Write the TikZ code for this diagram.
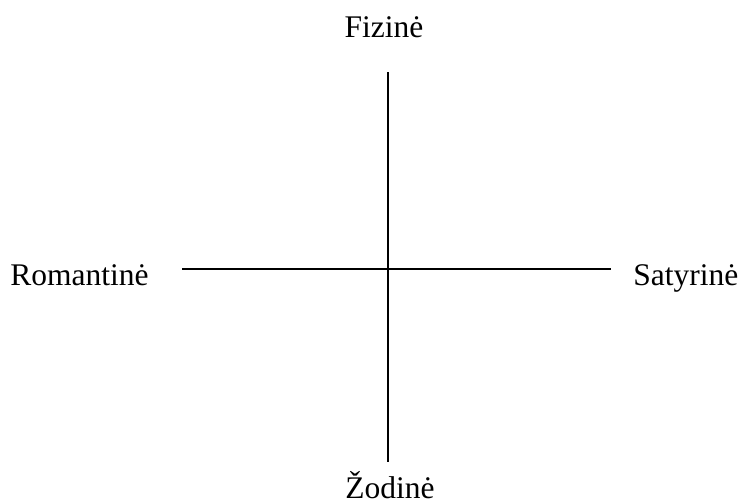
\documentclass[tikz,border=0pt]{standalone}
\usepackage{fontspec}
\setmainfont{Liberation Serif}
\usepackage{tikz}
\usetikzlibrary{positioning}
\tikzset{
  axislbl/.style = {
    inner sep=0pt, font=\fontsize{15.75}{18}\selectfont
  },
  axis/.style = {draw=black, line width=0.8pt},
}

\begin{document}
\begin{tikzpicture}[x=0.5pt, y=-0.5pt]

  \useasboundingbox (0,0) rectangle (740,503);

  %% ── Axis ends ──────────────────────────────────────────────────────────
  \coordinate (fiz_end) at (388,72);
  \coordinate (zod_end) at (388,462);
  \coordinate (rom_end) at (182,269);
  \coordinate (sat_end) at (611,269);

  %% ── Labels ─────────────────────────────────────────────────────────────
  \node[axislbl, anchor=base] (fizine) at (384,37) {Fizinė};
  \node[axislbl, anchor=base] (zodine) at (390,498) {Žodinė};
  \node[axislbl, anchor=base west] (romantine) at (10,285) {Romantinė};
  \node[axislbl, anchor=base west] (satyrine) at (633,285) {Satyrinė};

  %% ── Axes ───────────────────────────────────────────────────────────────
  \draw[axis] (fiz_end) -- (zod_end);
  \draw[axis] (rom_end) -- (sat_end);

\end{tikzpicture}
\end{document}
